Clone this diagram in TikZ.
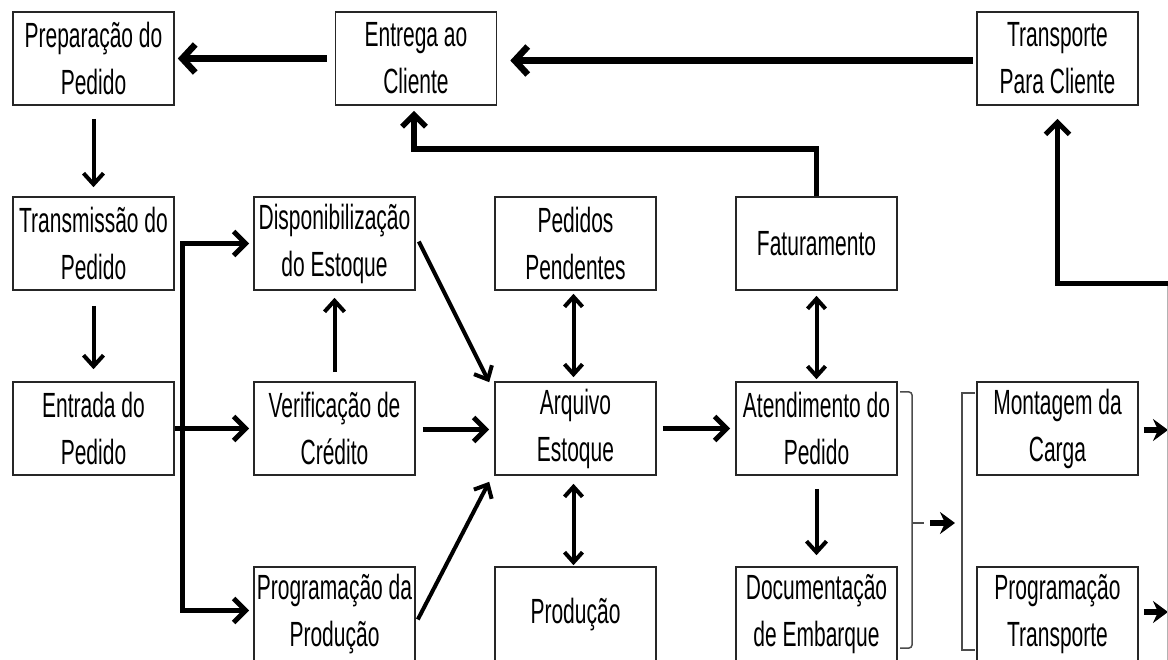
\documentclass[tikz,border=0pt]{standalone}
\usepackage{fontspec}
\setmainfont{Liberation Sans}[FakeStretch=0.6]
\usetikzlibrary{arrows.meta,calc}
\begin{document}
\begin{tikzpicture}[x=1pt,y=-1pt,
  stepbox/.style={draw=black!85,line width=1.6pt,minimum width=161pt,
    minimum height=93pt,inner sep=0pt,align=center,
    font=\fontsize{35}{47}\selectfont},
  lowbox/.style={stepbox,minimum height=95pt},
  flow/.style={line width=5pt,line join=miter,
    -{Straight Barb[length=12pt,width=24pt]}},
  heavy/.style={flow,line width=6.5pt,-{Straight Barb[length=13pt,width=28pt]}},
  light/.style={line width=4pt,-{Straight Barb[length=11pt,width=20pt]}},
  both/.style={line width=4pt,{Straight Barb[length=10pt,width=18pt]}-{Straight Barb[length=10pt,width=18pt]}},
  stub/.style={line width=6pt,-{Stealth[length=15pt,width=22pt,inset=5pt]}},
  brace/.style={draw=black!70,line width=1.5pt},
]
\useasboundingbox (0,0) rectangle (1168,660);

% order entry and preparation
\node[stepbox] (prep) at (93.5,58.5)  {Preparação do\\Pedido};
\node[stepbox] (trm)  at (93.5,243.5) {Transmissão do\\Pedido};
\node[stepbox] (entr) at (93.5,428.5) {Entrada do\\Pedido};

% delivery line at the top
\node[stepbox] (ent) at (416,58.5)   {Entrega ao\\Cliente};
\node[stepbox] (trc) at (1057.5,58.5) {Transporte\\Para Cliente};

% order processing
\node[stepbox] (disp) at (334.5,243.5) {Disponibilização\\do Estoque};
\node[stepbox] (ver)  at (334.5,428.5) {Verificação de\\Crédito};
\node[lowbox]  (prog) at (334.5,614.5) {Programação da\\Produção};

\node[stepbox] (ped) at (575.5,243.5) {Pedidos\\Pendentes};
\node[stepbox] (arq) at (575.5,428.5) {Arquivo\\Estoque};
\node[lowbox]  (prd) at (575.5,614.5) {Produção};

\node[stepbox] (fat) at (816.5,243.5) {Faturamento};
\node[stepbox] (atd) at (816.5,428.5) {Atendimento do\\Pedido};
\node[lowbox]  (doc) at (816.5,614.5) {Documentação\\de Embarque};

% shipping
\node[stepbox] (mon) at (1057.5,428.5) {Montagem da\\Carga};
\node[lowbox]  (prt) at (1057.5,614.5) {Programação\\Transporte};

% top line arrows
\draw[heavy] ([xshift=-8pt]ent.west) -- ([xshift=3pt]prep.east);
\draw[heavy] ([xshift=-3pt,yshift=-2pt]trc.west) -- ([xshift=13pt,yshift=-2pt]ent.east);

% first column
\draw[light] ([yshift=-13pt]prep.south) -- ([yshift=9pt]trm.north);
\draw[light] ([yshift=-15pt]trm.south) -- ([yshift=12pt]entr.north);

% fork out of order entry
\coordinate (fk) at (182,428.5);
\draw[flow] (entr.east) -- ([xshift=-4pt]ver.west);
\draw[flow] (fk) |- ([xshift=-4pt]disp.west);
\draw[flow] (fk) |- ([xshift=-4pt,yshift=4pt]prog.west);

% into the stock file
\draw[light] ([yshift=9pt]ver.north) -- ([yshift=-7pt]disp.south);
\draw[light] ([xshift=3pt,yshift=2pt]disp.east) -- ([xshift=-5pt,yshift=-1pt]arq.north west);
\draw[flow] ([xshift=7pt,yshift=-1pt]ver.east) -- ([xshift=-5pt,yshift=-1pt]arq.west);
\draw[light] ([xshift=2pt,yshift=-5pt]prog.east) -- ([xshift=-5pt,yshift=-6pt]arq.south west);
\draw[both] ([xshift=-2pt,yshift=-3pt]ped.south) -- ([xshift=-2pt,yshift=4pt]arq.north);
\draw[both] ([xshift=-2pt,yshift=-8pt]arq.south) -- ([xshift=-2pt,yshift=1pt]prd.north);

% order fulfilment
\draw[flow] ([xshift=6pt]arq.east) -- ([xshift=-5pt]atd.west);
\draw[both] ([yshift=-5pt]fat.south) -- ([yshift=2pt]atd.north);
\draw[light] ([yshift=-13pt]atd.south) -- ([yshift=11pt]doc.north);
\draw[flow,line width=5.5pt]
  (fat.north) |- ($(ent.south)+(-2,43)$) -- ($(ent.south)+(-2,5)$);

% grouping brackets
\draw[brace,rounded corners=3pt] (900,392) -- (912,392) -- (912,648) -- (900,648);
\draw[brace] (912,523) -- (924,523);
\coordinate (g1) at (930,523);
\coordinate (g2) at (955,523);
\draw[stub] (g1) -- (g2);
\draw[brace] (975,393) -- (962,393) -- (962,650) -- (975,650);

% shipping outputs
\coordinate (m1) at (1168,430);
\coordinate (p1) at (1168,612);
\draw[stub] ([xshift=5pt,yshift=-1.5pt]mon.east) -- (m1);
\draw[stub] ([xshift=5pt]prt.east |- p1) -- (p1);

% return line to transport
\coordinate (edge) at (1172,284);
\draw[black!30,line width=1pt] (1167.5,284) -- (1167.5,662);
\draw[flow] (edge) -| ([yshift=-13pt]trc.south);
\end{tikzpicture}
\end{document}
